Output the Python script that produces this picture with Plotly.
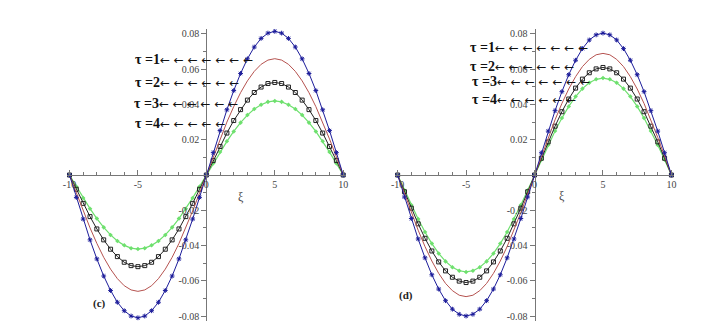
import plotly.graph_objects as go

# xi grid (every 0.5 from -10 to 10)
xi = [i / 2 for i in range(-20, 21)]

# panel (c)
c_blue = [0, -0.0127, -0.0250, -0.0368, -0.0476, -0.0573, -0.0655, -0.0722, -0.0770, -0.0800, -0.0810,
          -0.0800, -0.0770, -0.0722, -0.0655, -0.0573, -0.0476, -0.0368, -0.0250, -0.0127,
          0, 0.0127, 0.0252, 0.0370, 0.0479, 0.0576, 0.0659, 0.0726, 0.0775, 0.0805, 0.0815,
          0.0805, 0.0775, 0.0726, 0.0659, 0.0576, 0.0479, 0.0370, 0.0252, 0.0127, 0]
c_red = [0, -0.0103, -0.0204, -0.0300, -0.0388, -0.0467, -0.0534, -0.0588, -0.0628, -0.0652, -0.0660,
         -0.0652, -0.0628, -0.0588, -0.0534, -0.0467, -0.0388, -0.0300, -0.0204, -0.0103,
         0, 0.0103, 0.0204, 0.0300, 0.0388, 0.0467, 0.0534, 0.0588, 0.0628, 0.0652, 0.0660,
         0.0652, 0.0628, 0.0588, 0.0534, 0.0467, 0.0388, 0.0300, 0.0204, 0.0103, 0]
c_black = [0, -0.0081, -0.0161, -0.0236, -0.0306, -0.0368, -0.0421, -0.0463, -0.0495, -0.0514, -0.0520,
           -0.0514, -0.0495, -0.0463, -0.0421, -0.0368, -0.0306, -0.0236, -0.0161, -0.0081,
           0, 0.0082, 0.0162, 0.0238, 0.0309, 0.0371, 0.0425, 0.0468, 0.0499, 0.0519, 0.0525,
           0.0519, 0.0499, 0.0468, 0.0425, 0.0371, 0.0309, 0.0238, 0.0162, 0.0082, 0]
c_green = [0, -0.0066, -0.0130, -0.0191, -0.0247, -0.0297, -0.0340, -0.0374, -0.0399, -0.0415, -0.0420,
           -0.0415, -0.0399, -0.0374, -0.0340, -0.0297, -0.0247, -0.0191, -0.0130, -0.0066,
           0, 0.0066, 0.0130, 0.0191, 0.0247, 0.0297, 0.0340, 0.0374, 0.0399, 0.0415, 0.0420,
           0.0415, 0.0399, 0.0374, 0.0340, 0.0297, 0.0247, 0.0191, 0.0130, 0.0066, 0]

# panel (d)
d_blue = [0, -0.0125, -0.0247, -0.0363, -0.0470, -0.0566, -0.0647, -0.0713, -0.0761, -0.0790, -0.0800,
          -0.0790, -0.0761, -0.0713, -0.0647, -0.0566, -0.0470, -0.0363, -0.0247, -0.0125,
          0, 0.0126, 0.0249, 0.0365, 0.0473, 0.0569, 0.0651, 0.0717, 0.0766, 0.0795, 0.0805,
          0.0795, 0.0766, 0.0717, 0.0651, 0.0569, 0.0473, 0.0365, 0.0249, 0.0126, 0]
d_red = [0, -0.0108, -0.0213, -0.0313, -0.0406, -0.0488, -0.0558, -0.0615, -0.0656, -0.0682, -0.0690,
         -0.0682, -0.0656, -0.0615, -0.0558, -0.0488, -0.0406, -0.0313, -0.0213, -0.0108,
         0, 0.0108, 0.0213, 0.0313, 0.0406, 0.0488, 0.0558, 0.0615, 0.0656, 0.0682, 0.0690,
         0.0682, 0.0656, 0.0615, 0.0558, 0.0488, 0.0406, 0.0313, 0.0213, 0.0108, 0]
d_black = [0, -0.0095, -0.0188, -0.0277, -0.0359, -0.0431, -0.0493, -0.0544, -0.0580, -0.0602, -0.0610,
           -0.0602, -0.0580, -0.0544, -0.0493, -0.0431, -0.0359, -0.0277, -0.0188, -0.0095,
           0, 0.0095, 0.0188, 0.0277, 0.0359, 0.0431, 0.0493, 0.0544, 0.0580, 0.0602, 0.0610,
           0.0602, 0.0580, 0.0544, 0.0493, 0.0431, 0.0359, 0.0277, 0.0188, 0.0095, 0]
d_green = [0, -0.0086, -0.0170, -0.0250, -0.0323, -0.0389, -0.0445, -0.0490, -0.0523, -0.0543, -0.0550,
           -0.0543, -0.0523, -0.0490, -0.0445, -0.0389, -0.0323, -0.0250, -0.0170, -0.0086,
           0, 0.0086, 0.0170, 0.0250, 0.0323, 0.0389, 0.0445, 0.0490, 0.0523, 0.0543, 0.0550,
           0.0543, 0.0523, 0.0490, 0.0445, 0.0389, 0.0323, 0.0250, 0.0170, 0.0086, 0]

tau_labels = ["τ =1", "τ =2", "τ =3", "τ =4"]
c_tau_y = [0.0658, 0.0522, 0.0408, 0.0290]
c_tau_start = [-5.36, -5.36, -5.43, -5.36]
c_tau_arrows = [7, 6, 6, 5]
d_tau_y = [0.0726, 0.0617, 0.0531, 0.0429]
d_tau_start = [-4.86, -4.86, -4.72, -4.72]
d_tau_arrows = [7, 6, 7, 6]

x_ticks = [-10, -5, 0, 5, 10]
y_ticks = [-0.08, -0.06, -0.04, -0.02, 0.02, 0.04, 0.06, 0.08]
y_ticktext = ["-0.08", "-0.06", "-0.04", "-0.02", "0.02", "0.04", "0.06", "0.08"]

BLUE = "#1c1c9a"
RED = "#b5524f"
BLACK = "#222222"
GREEN = "#6ee06e"
SERIF = "Liberation Serif"

fig = go.Figure()


def add_panel(xref, yref, blue, red, black, green):
    fig.add_trace(go.Scatter(
        x=xi, y=green, xaxis=xref, yaxis=yref, mode="lines+markers",
        line={"color": GREEN, "width": 1.2},
        marker={"symbol": "diamond", "size": 3.5, "color": GREEN},
    ))
    fig.add_trace(go.Scatter(
        x=xi, y=black, xaxis=xref, yaxis=yref, mode="lines+markers",
        line={"color": BLACK, "width": 1},
        marker={"symbol": "square-open", "size": 4, "color": BLACK, "line": {"width": 1}},
    ))
    fig.add_trace(go.Scatter(
        x=xi, y=red, xaxis=xref, yaxis=yref, mode="lines",
        line={"color": RED, "width": 1},
    ))
    fig.add_trace(go.Scatter(
        x=xi, y=blue, xaxis=xref, yaxis=yref, mode="lines+markers",
        line={"color": BLUE, "width": 1},
        marker={"symbol": "asterisk-open", "size": 4, "color": BLUE, "line": {"width": 1, "color": BLUE}},
    ))


add_panel("x", "y", c_blue, c_red, c_black, c_green)
add_panel("x2", "y2", d_blue, d_red, d_black, d_green)

axis_font = {"family": SERIF, "size": 10, "color": "#444444"}


def xaxis_cfg(domain, ypos):
    return dict(
        domain=domain, range=[-10.2, 10.2], anchor="free", position=ypos,
        showline=True, linecolor="#777777", linewidth=1,
        ticks="inside", ticklen=5, tickcolor="#777777",
        tickvals=x_ticks, ticktext=["-10", "-5", "0", "5", "10"],
        tickfont=axis_font, showgrid=False, zeroline=False,
        minor={"tickmode": "linear", "tick0": 0, "dtick": 1, "ticks": "inside",
               "ticklen": 3, "tickcolor": "#777777", "showgrid": False},
    )


def yaxis_cfg(domain, xpos):
    return dict(
        domain=domain, range=[-0.083, 0.083], anchor="free", position=xpos,
        showline=True, linecolor="#777777", linewidth=1,
        ticks="outside", ticklen=5, tickcolor="#777777",
        tickvals=y_ticks, ticktext=y_ticktext,
        tickfont=axis_font, showgrid=False, zeroline=False,
        minor={"tickmode": "linear", "tick0": 0, "dtick": 0.01, "ticks": "outside",
               "ticklen": 3, "tickcolor": "#777777", "showgrid": False},
    )


# the page body adds an 8px margin, so the figure is sized to fit inside the window
ydom = [0.0209, 0.9353]
fig.update_layout(
    width=707, height=320,
    margin=dict(l=0, r=0, t=0, b=0),
    paper_bgcolor="white", plot_bgcolor="white",
    showlegend=False,
    xaxis=xaxis_cfg([0.0781, 0.4764], 0.4781),
    yaxis=yaxis_cfg(ydom, 0.2772),
    xaxis2=xaxis_cfg([0.5462, 0.9446], 0.4781),
    yaxis2=yaxis_cfg(ydom, 0.7454),
)

for xref, yref, ys, starts, counts in [("x", "y", c_tau_y, c_tau_start, c_tau_arrows),
                                       ("x2", "y2", d_tau_y, d_tau_start, d_tau_arrows)]:
    for lab, yv, xs, n in zip(tau_labels, ys, starts, counts):
        arrows = " ".join(["←"] * n)
        fig.add_annotation(
            x=xs, y=yv, xref=xref, yref=yref, xanchor="left", yanchor="middle",
            text=("<b>" + lab + "</b><span style='font-family:DejaVu Sans;font-size:12px'>"
                  + arrows + "</span>"),
            showarrow=False,
            font={"family": SERIF, "size": 14, "color": "#111111"},
        )

for txt, px, py in [("ξ", 0.3197, 0.4094), ("ξ", 0.7921, 0.4125)]:
    fig.add_annotation(x=px, y=py, xref="paper", yref="paper", text=txt, showarrow=False,
                       font={"family": SERIF, "size": 12, "color": "#444444"})

for txt, px, py in [("(c)", 0.1132, 0.05), ("(d)", 0.5615, 0.075)]:
    fig.add_annotation(x=px, y=py, xref="paper", yref="paper", text="<b>" + txt + "</b>",
                       showarrow=False, font={"family": SERIF, "size": 11, "color": "#222222"})

fig.write_html("out.html")
